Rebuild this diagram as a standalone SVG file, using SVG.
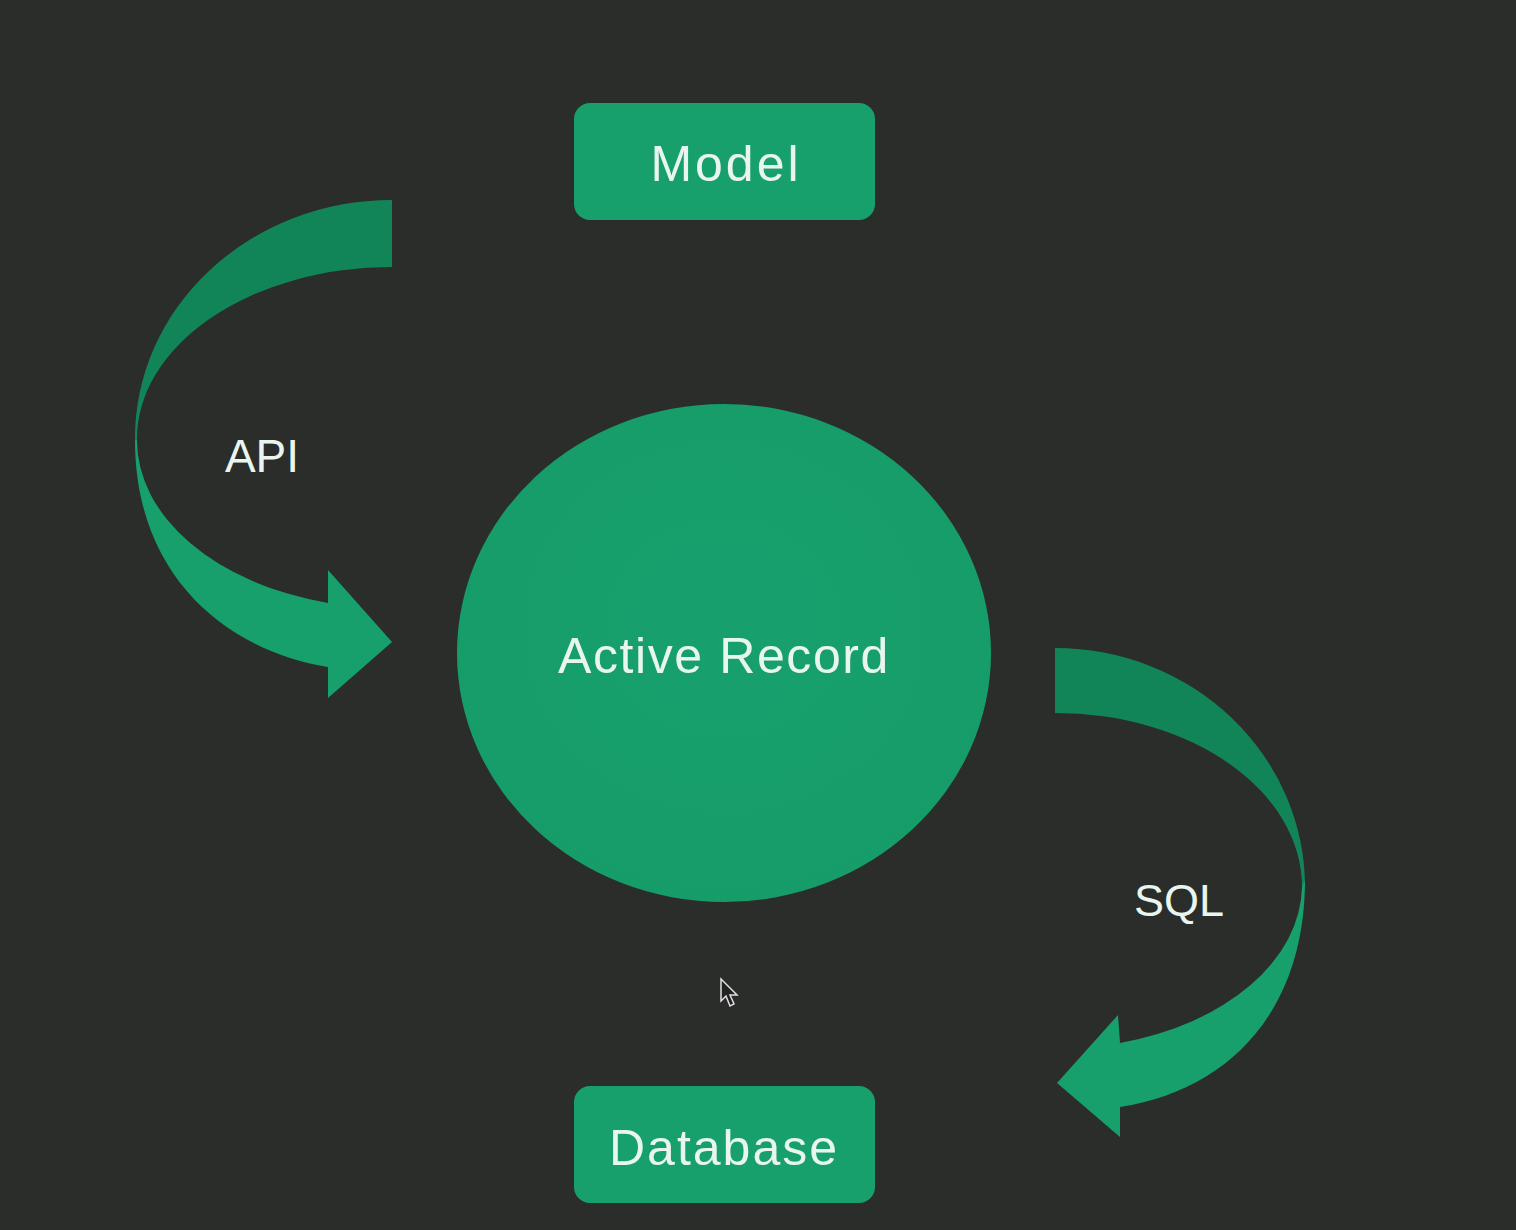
<svg xmlns="http://www.w3.org/2000/svg" width="1516" height="1230" viewBox="0 0 1516 1230">
<defs>
<style>
.box{fill:#17a06c;}
.dark{fill:#128558;}
.light{fill:#17a06c;}
.lbl{font-family:"Liberation Sans",Arial,sans-serif;fill:#e8f6ef;text-anchor:middle;}
</style>
<radialGradient id="g" cx="0.5" cy="0.45" r="0.6">
<stop offset="0" stop-color="#17a06d"/>
<stop offset="1" stop-color="#169c69"/>
</radialGradient>
</defs>
<rect width="1516" height="1230" fill="#2b2d2a"/>
<g id="connectors">
<g id="api-arrow">
<path class="dark" d="M392,200 L392,267 A255,172 0 0 0 137,440 L135,440 A257,238 0 0 1 392,200 Z"/>
<path class="light" d="M137,440 A255,168 0 0 0 328,603 L328,570 L392,642 L328,698 L328,667 C225,650 135,575 135,440 Z"/>
</g>
<g id="sql-arrow">
<path class="dark" d="M1055,648 L1055,713 A247,174 0 0 1 1302,887 L1305,887 A250,239 0 0 0 1055,648 Z"/>
<path class="light" d="M1302,887 A247,164 0 0 1 1120,1043 L1118,1015 L1057,1083 L1120,1137 L1120,1107 C1230,1090 1305,1010 1305,880 Z"/>
</g>
</g>
<g id="model">
<rect class="box" x="574" y="103" width="301" height="117" rx="16"/>
<text class="lbl" x="726" y="181" font-size="50" letter-spacing="3">Model</text>
</g>
<g id="active-record">
<ellipse cx="724" cy="653" rx="267" ry="249" fill="url(#g)"/>
<text class="lbl" x="724" y="673" font-size="50" letter-spacing="1.6">Active Record</text>
</g>
<g id="database">
<rect class="box" x="574" y="1086" width="301" height="117" rx="16"/>
<text class="lbl" x="724" y="1165" font-size="50" letter-spacing="2">Database</text>
</g>
<text class="lbl" x="262" y="472" font-size="46">API</text>
<text class="lbl" x="1179" y="916" font-size="45">SQL</text>
<path d="M721,979 L721,1001 L726,996 L730,1006 L734,1004 L730,995 L737,995 Z" fill="#222" stroke="#e0e0e0" stroke-width="1.5"/>
</svg>
